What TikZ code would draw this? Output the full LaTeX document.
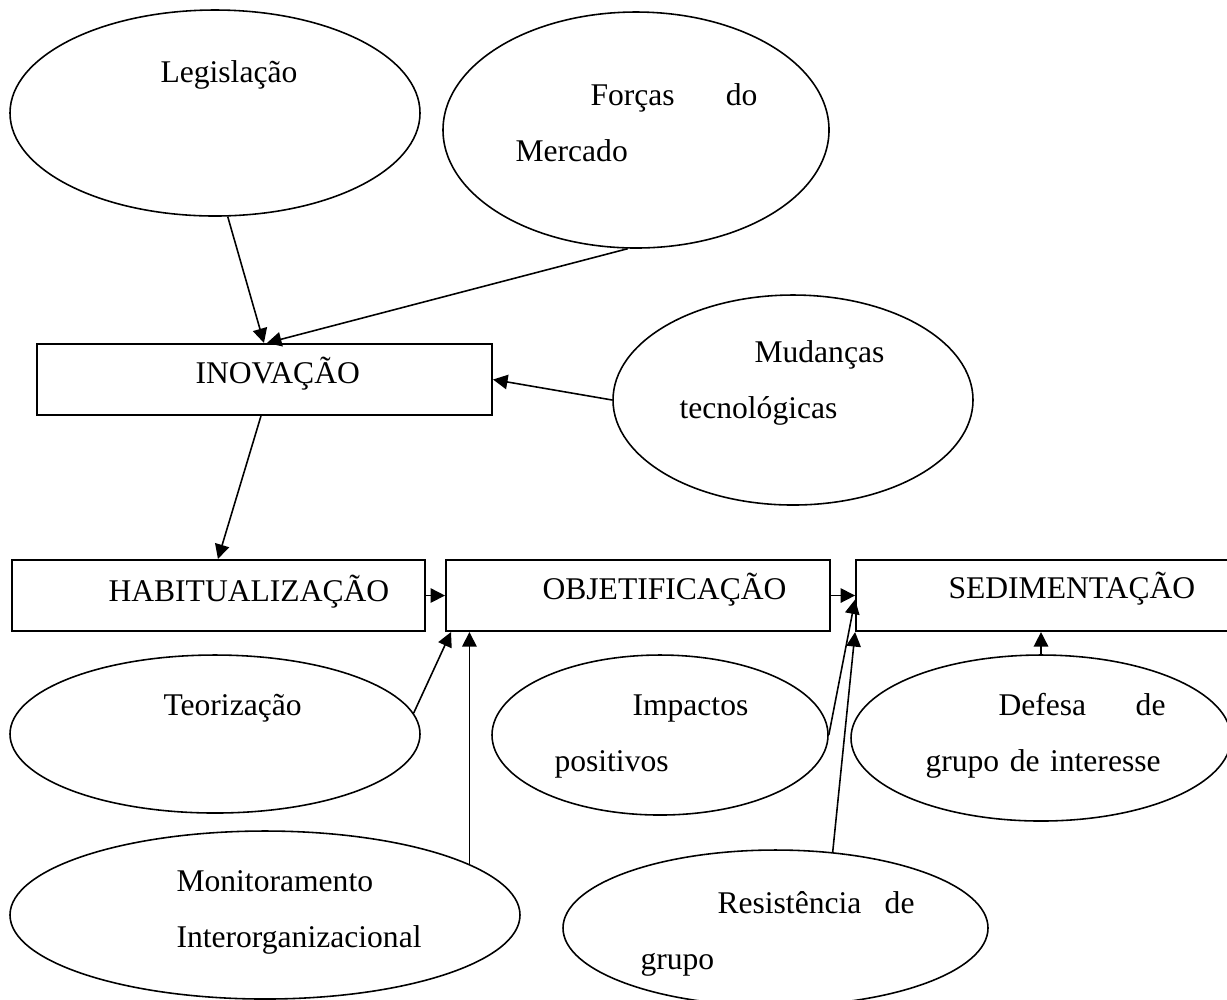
\documentclass[tikz,border=0pt]{standalone}
\usepackage{fontspec}
\setmainfont{Liberation Serif}
\usetikzlibrary{shapes.geometric, positioning, arrows.meta, calc}

\newdimen\px
\px=0.01335cm

\tikzset{
  elip/.style = {ellipse, draw, line width=0.6pt, inner sep=0pt},
  box/.style = {rectangle, draw, line width=0.8pt, minimum height=71*\px, inner sep=0pt},
  txt/.style = {anchor=base west, inner sep=0pt, align=left, font=\fontsize{12}{21.3}\selectfont},
  arr/.style = {-{Triangle[length=5.5pt,width=5.5pt]}, line width=0.6pt},
}

\begin{document}
\begin{tikzpicture}[x=0.01335cm, y=-0.01335cm]
    \useasboundingbox (0,0) rectangle (1227,999);
    \clip (0,0) rectangle (1227,999);

    % etapas
    \node[box, minimum width=455*\px] (ino) at (264.5,379.5) {};
    \node[box, minimum width=413*\px] (hab) at (218.5,595.5) {};
    \node[box, minimum width=384*\px, right=7.2pt of hab] (obj) {};
    \node[box, minimum width=393*\px, right=9.1pt of obj] (sed) {};

    % fatores
    \node[elip, minimum width=410*\px, minimum height=206*\px] (leg) at (215,113) {};
    \node[elip, minimum width=386*\px, minimum height=236*\px] (forc) at (636,130) {};
    \node[elip, minimum width=360*\px, minimum height=210*\px] (mud) at (793,400) {};
    \node[elip, minimum width=410*\px, minimum height=158*\px] (teo) at (215,734) {};
    \node[elip, minimum width=510*\px, minimum height=168*\px] (mon) at (265,915) {};
    \node[elip, minimum width=336*\px, minimum height=160*\px] (imp) at (660,735) {};
    \node[elip, minimum width=380*\px, minimum height=166*\px] (def) at (1041,738) {};
    \node[elip, minimum width=425*\px, minimum height=156*\px] (res) at (775.5,928) {};

    % textos
    \node[txt] (inot) at (195,383) {INOVAÇÃO};
    \node[txt] (habt) at (108,601) {HABITUALIZAÇÃO};
    \node[txt] (objt) at (542,599) {OBJETIFICAÇÃO};
    \node[txt] (sedt) at (948,598) {SEDIMENTAÇÃO};
    \node[txt] (legt) at (160,82) {Legislação};
    \node[txt, text width=242*\px] (forct) at (515,105) {\hspace*{75\px}Forças\hfill do\\Mercado};
    \node[txt, text width=220*\px] (mudt) at (679,362) {\hspace*{75\px}Mudanças\\tecnológicas};
    \node[txt] (teot) at (163,715) {Teorização};
    \node[txt, text width=240*\px] (mont) at (176,891) {Monitoramento\\Interorganizacional};
    \node[txt, text width=230*\px] (impt) at (554,715) {\hspace*{78\px}Impactos\\positivos};
    \node[txt, text width=240*\px] (deft) at (925,715) {\hspace*{73\px}Defesa\hfill de\\grupo de interesse};
    \node[txt, text width=274*\px] (rest) at (640,913) {\hspace*{77\px}Resistência\hfill de\\grupo};

    % ligações
    \draw[arr] (leg.-83) -- ($(ino.north west)+(228,0)$);
    \draw[arr] (forc.-94) -- ($(ino.north west)+(231,0)$);
    \draw[arr] (mud.west) -- (ino.east);
    \draw[arr] ($(ino.south west)+(225,0)$) -- ($(hab.north west)+(207,0)$);
    \draw[arr] (hab.east) -- (obj.west);
    \draw[arr] (obj.east) -- (sed.west);
    \draw[arr] (teo.6) -- ($(obj.south west)+(6,0)$);
    \draw[arr] (mon.14) -- (mon.14 |- obj.south);
    \draw[arr] (imp.east) -- ($(sed.west)+(0,4)$);
    \draw[arr] (res.53) -- (sed.south west);
    \draw[arr] (def.north) -- (def.north |- sed.south);
\end{tikzpicture}
\end{document}
